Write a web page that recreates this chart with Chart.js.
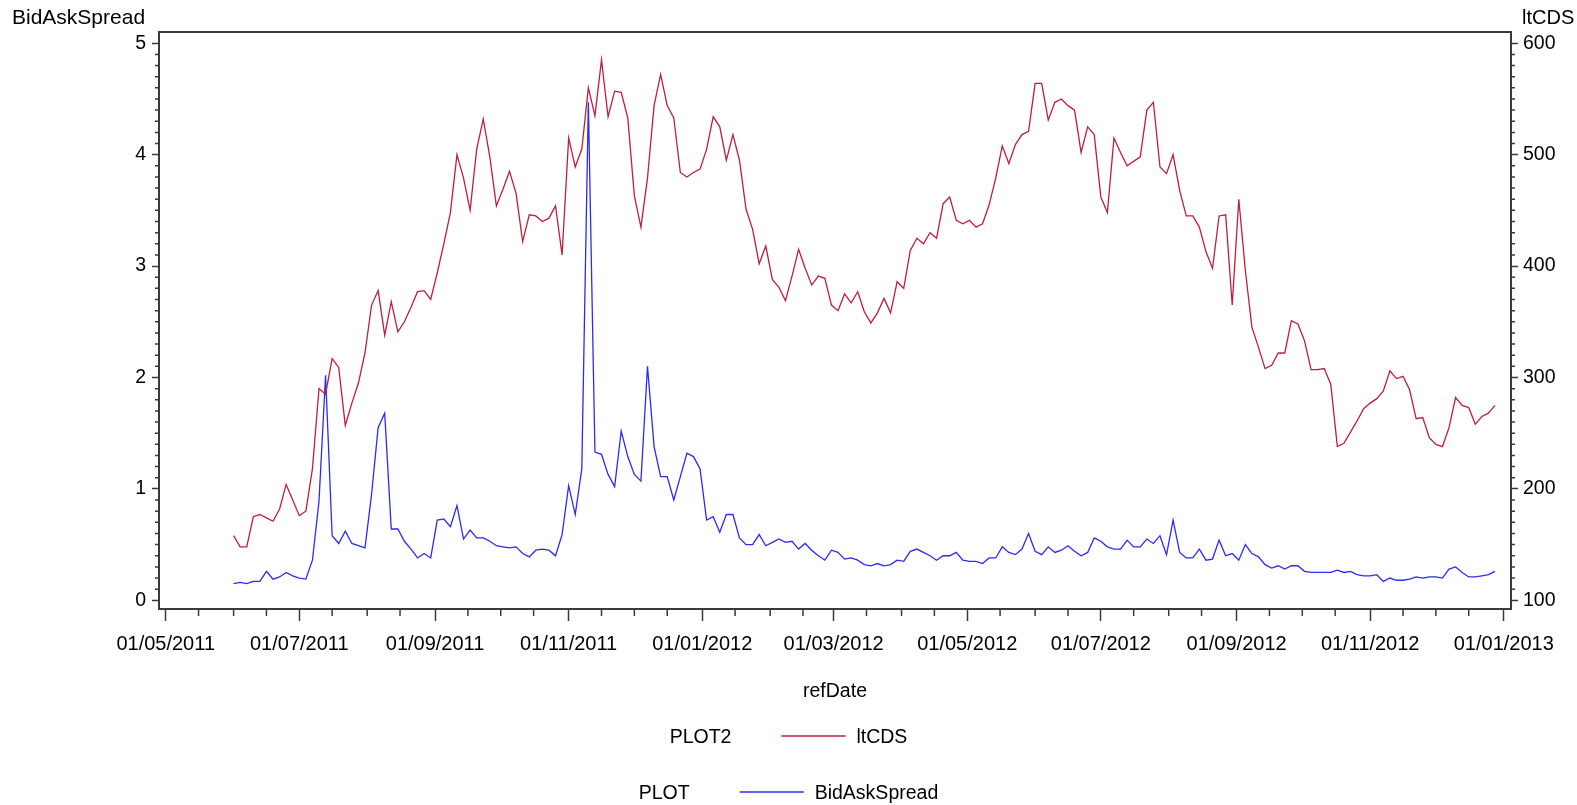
<!DOCTYPE html>
<html>
<head>
<meta charset="utf-8">
<title>BidAskSpread / ltCDS</title>
<script src="https://cdn.jsdelivr.net/npm/chart.js@4.4.1/dist/chart.umd.min.js"></script>
<style>
    html, body { margin: 0; padding: 0; background: #fff; }
    canvas { display: block; }
</style>
</head>
<body>
<canvas id="spread_cds" width="1577" height="805"></canvas>
<script>
// observation dates (read every 3 days off the plot)
const refDates = [
    '2011-06-01','2011-06-04','2011-06-07','2011-06-10','2011-06-13','2011-06-16','2011-06-19','2011-06-22','2011-06-25','2011-06-28',
    '2011-07-01','2011-07-04','2011-07-07','2011-07-10','2011-07-13','2011-07-16','2011-07-19','2011-07-22','2011-07-25','2011-07-28','2011-07-31',
    '2011-08-03','2011-08-06','2011-08-09','2011-08-12','2011-08-15','2011-08-18','2011-08-21','2011-08-24','2011-08-27','2011-08-30',
    '2011-09-02','2011-09-05','2011-09-08','2011-09-11','2011-09-14','2011-09-17','2011-09-20','2011-09-23','2011-09-26','2011-09-29',
    '2011-10-02','2011-10-05','2011-10-08','2011-10-11','2011-10-14','2011-10-17','2011-10-20','2011-10-23','2011-10-26','2011-10-29',
    '2011-11-01','2011-11-04','2011-11-07','2011-11-10','2011-11-13','2011-11-16','2011-11-19','2011-11-22','2011-11-25','2011-11-28',
    '2011-12-01','2011-12-04','2011-12-07','2011-12-10','2011-12-13','2011-12-16','2011-12-19','2011-12-22','2011-12-25','2011-12-28','2011-12-31',
    '2012-01-03','2012-01-06','2012-01-09','2012-01-12','2012-01-15','2012-01-18','2012-01-21','2012-01-24','2012-01-27','2012-01-30',
    '2012-02-02','2012-02-05','2012-02-08','2012-02-11','2012-02-14','2012-02-17','2012-02-20','2012-02-23','2012-02-26','2012-02-29',
    '2012-03-03','2012-03-06','2012-03-09','2012-03-12','2012-03-15','2012-03-18','2012-03-21','2012-03-24','2012-03-27','2012-03-30',
    '2012-04-02','2012-04-05','2012-04-08','2012-04-11','2012-04-14','2012-04-17','2012-04-20','2012-04-23','2012-04-26','2012-04-29',
    '2012-05-02','2012-05-05','2012-05-08','2012-05-11','2012-05-14','2012-05-17','2012-05-20','2012-05-23','2012-05-26','2012-05-29',
    '2012-06-01','2012-06-04','2012-06-07','2012-06-10','2012-06-13','2012-06-16','2012-06-19','2012-06-22','2012-06-25','2012-06-28',
    '2012-07-01','2012-07-04','2012-07-07','2012-07-10','2012-07-13','2012-07-16','2012-07-19','2012-07-22','2012-07-25','2012-07-28','2012-07-31',
    '2012-08-03','2012-08-06','2012-08-09','2012-08-12','2012-08-15','2012-08-18','2012-08-21','2012-08-24','2012-08-27','2012-08-30',
    '2012-09-02','2012-09-05','2012-09-08','2012-09-11','2012-09-14','2012-09-17','2012-09-20','2012-09-23','2012-09-26','2012-09-29',
    '2012-10-02','2012-10-05','2012-10-08','2012-10-11','2012-10-14','2012-10-17','2012-10-20','2012-10-23','2012-10-26','2012-10-29',
    '2012-11-01','2012-11-04','2012-11-07','2012-11-10','2012-11-13','2012-11-16','2012-11-19','2012-11-22','2012-11-25','2012-11-28',
    '2012-12-01','2012-12-04','2012-12-07','2012-12-10','2012-12-13','2012-12-16','2012-12-19','2012-12-22','2012-12-25','2012-12-28'
];

// PLOT2, right axis
const ltCDS = [
    158,148,148,175,177,174,171,182,204,190,
    176,180,218,290,285,317,309,257,277,295,
    322,365,378,338,368,341,350,363,377,378,
    370,394,420,448,500,479,450,505,532,498,
    454,469,485,465,422,446,445,440,443,454,
    410,515,489,505,560,535,585,534,557,556,
    533,463,435,479,544,572,544,533,484,480,
    484,487,505,534,525,495,518,495,451,433,
    402,418,388,381,369,391,415,398,383,391,
    389,365,360,375,367,377,359,349,358,371,
    358,386,380,414,425,420,430,425,456,462,
    441,438,441,435,438,455,479,508,492,509,
    518,521,564,564,531,547,550,544,540,502,
    525,518,462,448,515,502,490,494,498,540,
    547,489,483,500,468,445,445,435,413,398,
    445,446,365,460,396,345,327,308,311,322,
    322,351,348,333,307,307,308,294,238,241,
    251,261,272,277,281,288,306,299,301,289,
    263,264,246,240,238,255,282,275,273,258,
    265,268,275
];

// PLOT, left axis
const bidAskSpread = [
    0.15,0.16,0.15,0.17,0.17,0.26,0.19,0.21,0.25,0.22,
    0.20,0.19,0.36,0.89,2.02,0.58,0.51,0.62,0.51,0.49,
    0.47,0.95,1.55,1.68,0.64,0.64,0.53,0.46,0.38,0.42,
    0.38,0.72,0.73,0.66,0.85,0.55,0.63,0.56,0.56,0.53,
    0.49,0.48,0.47,0.48,0.42,0.39,0.45,0.46,0.45,0.40,
    0.59,1.03,0.77,1.18,4.47,1.33,1.31,1.13,1.02,1.52,
    1.29,1.13,1.07,2.10,1.38,1.11,1.11,0.90,1.11,1.32,
    1.29,1.18,0.72,0.75,0.61,0.77,0.77,0.56,0.50,0.50,
    0.59,0.49,0.52,0.55,0.52,0.53,0.46,0.51,0.45,0.40,
    0.36,0.45,0.43,0.37,0.38,0.36,0.32,0.31,0.33,0.31,
    0.32,0.36,0.35,0.44,0.46,0.43,0.40,0.36,0.40,0.40,
    0.43,0.36,0.35,0.35,0.33,0.38,0.38,0.48,0.43,0.41,
    0.46,0.60,0.44,0.41,0.48,0.43,0.45,0.49,0.44,0.40,
    0.43,0.56,0.53,0.48,0.46,0.46,0.54,0.48,0.48,0.55,
    0.51,0.58,0.41,0.72,0.43,0.38,0.38,0.46,0.36,0.37,
    0.54,0.40,0.42,0.36,0.50,0.42,0.39,0.32,0.29,0.31,
    0.28,0.31,0.31,0.26,0.25,0.25,0.25,0.25,0.27,0.25,
    0.26,0.23,0.22,0.22,0.23,0.17,0.20,0.18,0.18,0.19,
    0.21,0.20,0.21,0.21,0.20,0.28,0.30,0.25,0.21,0.21,
    0.22,0.23,0.26
];

const xTickLabels = ['01/05/2011','01/07/2011','01/09/2011','01/11/2011','01/01/2012','01/03/2012',
                     '01/05/2012','01/07/2012','01/09/2012','01/11/2012','01/01/2013'];
const leftTicks = [0, 1, 2, 3, 4, 5];
const rightTicks = [100, 200, 300, 400, 500, 600];

const RED = '#bf1e3c';
const BLUE = '#2b2bf2';
const AXIS = '#3a3a3a';
const FONT = '"Liberation Sans", Arial, sans-serif';

// days since 01/05/2011, used as the linear x value
const startUTC = Date.UTC(2011, 4, 1);
function dayOf(y, m, d) { return (Date.UTC(y, m - 1, d) - startUTC) / 86400000; }
function isoDay(s) { const p = s.split('-').map(Number); return dayOf(p[0], p[1], p[2]); }
function dmyDay(s) { const p = s.split('/').map(Number); return dayOf(p[2], p[1], p[0]); }

// minor ticks: the 16th of every month, the 1st of unlabelled months
const xMinor = [];
for (let y = 2011; y <= 2012; y++) {
    for (let m = (y === 2011 ? 5 : 1); m <= 12; m++) {
        xMinor.push(dayOf(y, m, 16));
        if (m % 2 === 0) xMinor.push(dayOf(y, m, 1));
    }
}

const minorTicks = {
    id: 'minorTicks',
    afterDraw(chart) {
        const c = chart.ctx, a = chart.chartArea, s = chart.scales;
        c.save();
        c.strokeStyle = AXIS;
        c.lineWidth = 1.5;
        c.beginPath();
        xMinor.forEach(function(v) {
            const px = s.x.getPixelForValue(v);
            c.moveTo(px, a.bottom); c.lineTo(px, a.bottom + 7);
        });
        for (let i = 1; i < 50; i++) {
            if (i % 10 === 0) continue;
            const py = s.y.getPixelForValue(i / 10);
            c.moveTo(a.left - 4, py); c.lineTo(a.left, py);
            const py2 = s.y2.getPixelForValue(100 + i * 10);
            c.moveTo(a.right, py2); c.lineTo(a.right + 4, py2);
        }
        c.stroke();
        // closed frame round the plot
        c.lineWidth = 2;
        c.strokeRect(a.left, a.top, a.right - a.left, a.bottom - a.top);
        c.restore();
    }
};

// axis names and the SAS style legend
const sasTexts = {
    id: 'sasTexts',
    afterDraw(chart) {
        const c = chart.ctx, a = chart.chartArea;
        c.save();
        c.fillStyle = '#000';
        c.textBaseline = 'middle';
        c.font = '21px ' + FONT;
        c.textAlign = 'left';
        c.fillText('BidAskSpread', 12, 18);
        c.font = '20px ' + FONT;
        c.fillText('ltCDS', a.right + 11, 18);
        c.font = '19.5px ' + FONT;
        c.textAlign = 'center';
        c.fillText('refDate', (a.left + a.right) / 2, 692);

        const rows = [
            { name: 'PLOT2', ds: chart.data.datasets[1], y: 736 },
            { name: 'PLOT', ds: chart.data.datasets[0], y: 792 }
        ];
        c.textAlign = 'left';
        rows.forEach(function(r) {
            const w1 = c.measureText(r.name).width;
            const w2 = c.measureText(r.ds.label).width;
            const lineLen = 64, gap1 = 50, gap2 = 11;
            let x = chart.width / 2 - (w1 + gap1 + lineLen + gap2 + w2) / 2;
            c.fillText(r.name, x, r.y + 2);
            x += w1 + gap1;
            c.strokeStyle = r.ds.borderColor;
            c.lineWidth = 1.5;
            c.beginPath();
            c.moveTo(x, r.y); c.lineTo(x + lineLen, r.y);
            c.stroke();
            x += lineLen + gap2;
            c.fillText(r.ds.label, x, r.y + 2);
        });
        c.restore();
    }
};

const canvas = document.getElementById('spread_cds');

let chartSpreadCds = new Chart(canvas, {
    type: 'line',
    data: {
        datasets: [{
            label: 'BidAskSpread',
            data: refDates.map(function(d, i) { return { x: isoDay(d), y: bidAskSpread[i] }; }),
            yAxisID: 'y',
            borderColor: BLUE,
            borderWidth: 1.3,
            pointRadius: 0,
            tension: 0,
            fill: false,
            order: 2
        }, {
            label: 'ltCDS',
            data: refDates.map(function(d, i) { return { x: isoDay(d), y: ltCDS[i] }; }),
            yAxisID: 'y2',
            borderColor: RED,
            borderWidth: 1.3,
            pointRadius: 0,
            tension: 0,
            fill: false,
            order: 1
        }]
    },
    options: {
        responsive: false,
        animation: false,
        layout: { padding: { top: 32, left: 0, right: 0, bottom: 0 } },
        plugins: {
            legend: { display: false },
            tooltip: { enabled: false }
        },
        scales: {
            x: {
                type: 'linear',
                position: 'bottom',
                min: -3.06,
                max: 614.3,
                afterBuildTicks: function(scale) {
                    scale.ticks = xTickLabels.map(function(l) { return { value: dmyDay(l) }; });
                },
                afterFit: function(scale) { scale.height = 196; },
                grid: { drawOnChartArea: false, tickLength: 12, tickColor: AXIS, tickWidth: 1.5 },
                border: { color: AXIS, width: 2 },
                ticks: {
                    autoSkip: false,
                    maxRotation: 0,
                    padding: 11,
                    color: '#000',
                    font: { family: FONT, size: 20 },
                    callback: function(value, index) { return xTickLabels[index]; }
                }
            },
            y: {
                position: 'left',
                min: -0.078,
                max: 5.101,
                afterBuildTicks: function(scale) {
                    scale.ticks = leftTicks.map(function(v) { return { value: v }; });
                },
                afterFit: function(scale) { scale.width = 159; },
                grid: { drawOnChartArea: false, tickLength: 7, tickColor: AXIS, tickWidth: 1.5 },
                border: { color: AXIS, width: 2 },
                ticks: { padding: 6, color: '#000', font: { family: FONT, size: 19.5 } }
            },
            y2: {
                position: 'right',
                min: 92.2,
                max: 610.1,
                afterBuildTicks: function(scale) {
                    scale.ticks = rightTicks.map(function(v) { return { value: v }; });
                },
                afterFit: function(scale) { scale.width = 66; },
                grid: { drawOnChartArea: false, tickLength: 7, tickColor: AXIS, tickWidth: 1.5 },
                border: { color: AXIS, width: 2 },
                ticks: { padding: 5, color: '#000', font: { family: FONT, size: 19.5 } }
            }
        }
    },
    plugins: [minorTicks, sasTexts]
});
</script>
</body>
</html>
